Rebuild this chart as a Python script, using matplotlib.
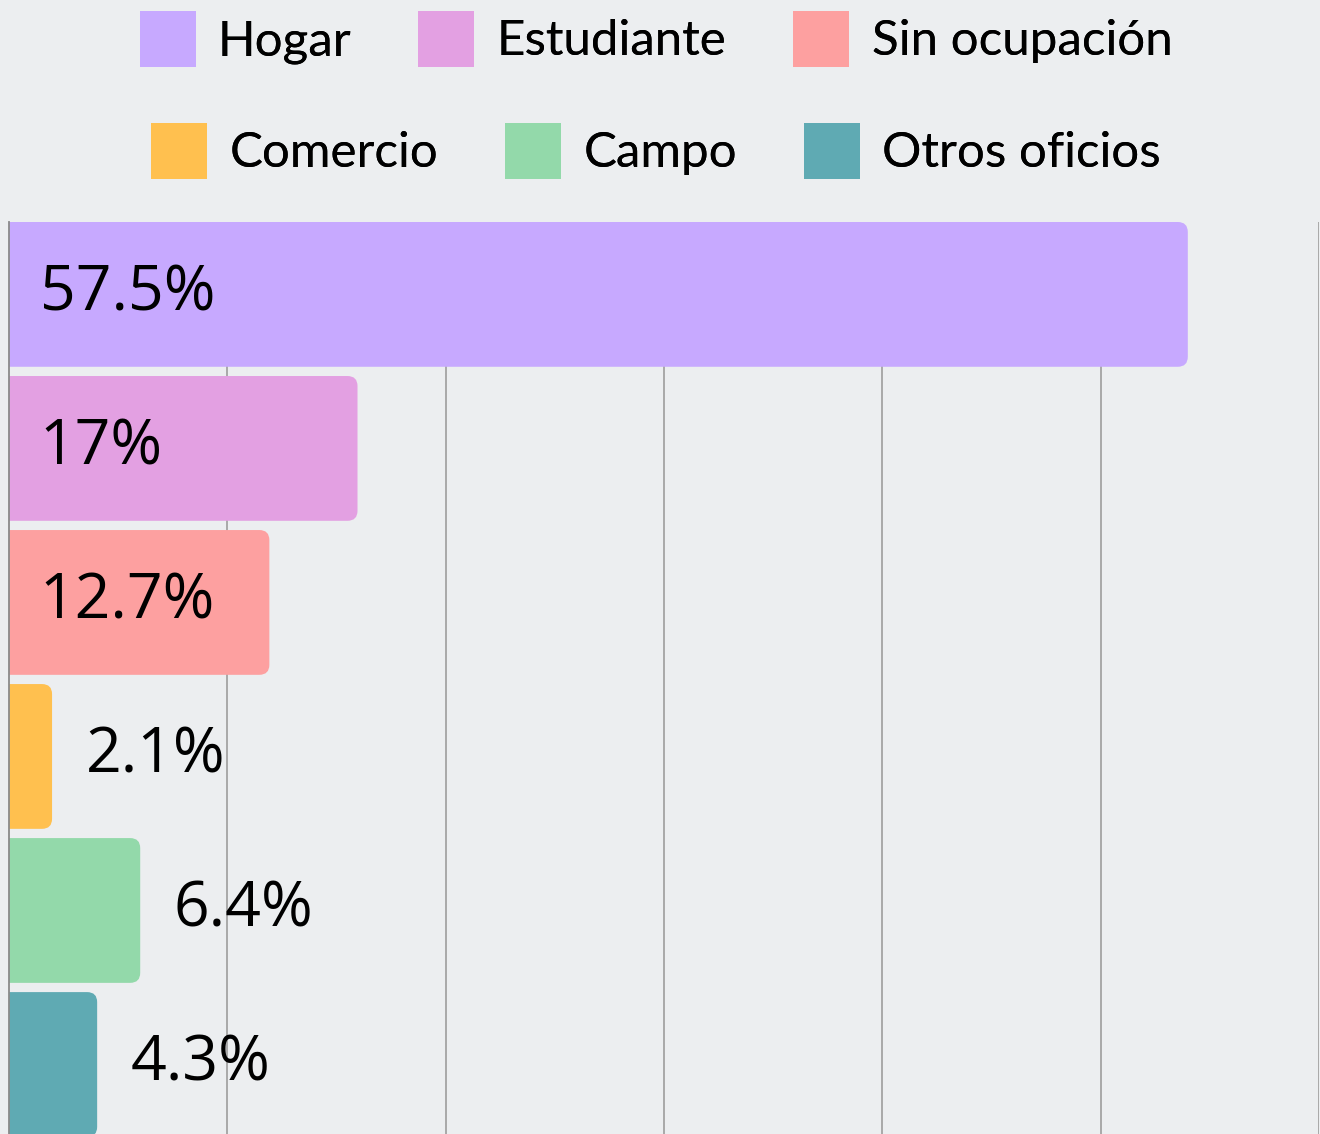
import matplotlib.pyplot as plt
from matplotlib.patches import FancyBboxPatch, Patch

# Occupation shares (%)
categories = ['Hogar', 'Estudiante', 'Sin ocupación', 'Comercio', 'Campo', 'Otros oficios']
values = [57.5, 17, 12.7, 2.1, 6.4, 4.3]
labels = ['57.5%', '17%', '12.7%', '2.1%', '6.4%', '4.3%']
colors = ['#c7a9ff', '#e3a0e2', '#fda0a0', '#ffc04f', '#93d9aa', '#5faab3']

bg = '#eceef0'

fig = plt.figure(figsize=(13.2, 11.34), dpi=100, facecolor=bg)
ax = fig.add_axes([9 / 1320, -7.5 / 1134, 1310 / 1320, 919.5 / 1134])
ax.set_facecolor(bg)

xmax = 63.9
ax.set_xlim(0, xmax)
ax.set_ylim(len(categories) - 0.5, -0.47)

# vertical grid
for i in range(1, 7):
    ax.axvline(xmax * i / 6, color='#a3a3a3', lw=1.3, zorder=0)

bars = ax.barh(range(len(categories)), values, height=0.94, color=colors)

# swap plain bars for ones with rounded right ends
r = 0.49
for b, c in zip(bars, colors):
    x, y, w, h = b.get_x(), b.get_y(), b.get_width(), b.get_height()
    b.remove()
    p = FancyBboxPatch((x - r * 2, y), w + r * 2, h,
                       boxstyle=f'round,pad=0,rounding_size={r}',
                       mutation_aspect=0.133, facecolor=c, edgecolor='none', zorder=2)
    ax.add_patch(p)

for i, (v, lab) in enumerate(zip(values, labels)):
    if v > 10:
        ax.annotate(lab, xy=(0, i), xytext=(22, 0), textcoords='offset points',
                    ha='left', va='center', fontsize=45, family='Open Sans', zorder=3)
    else:
        ax.annotate(lab, xy=(v, i), xytext=(24, 0), textcoords='offset points',
                    ha='left', va='center', fontsize=45, family='Open Sans', zorder=3)

for s in ['top', 'right', 'bottom']:
    ax.spines[s].set_visible(False)
ax.spines['left'].set_color('#8a8a8a')
ax.spines['left'].set_linewidth(1.3)
ax.set_xticks([])
ax.set_yticks([])

# legend in two centred rows
handles = [Patch(facecolor=c, edgecolor='none') for c in colors]
rows = [(0, 3, 1 - 39 / 1134), (3, 6, 1 - 151 / 1134)]
for a, z, ypos in rows:
    leg = fig.legend(handles[a:z], categories[a:z], loc='center', ncol=3,
                     bbox_to_anchor=(656 / 1320, ypos), frameon=False,
                     prop={'family': 'Lato', 'size': 35.5},
                     handlelength=1.136, handleheight=1.37, handletextpad=0.45,
                     columnspacing=1.36, borderpad=0, borderaxespad=0)
    fig.add_artist(leg)

fig.savefig('out.png', dpi=100, facecolor=bg)
